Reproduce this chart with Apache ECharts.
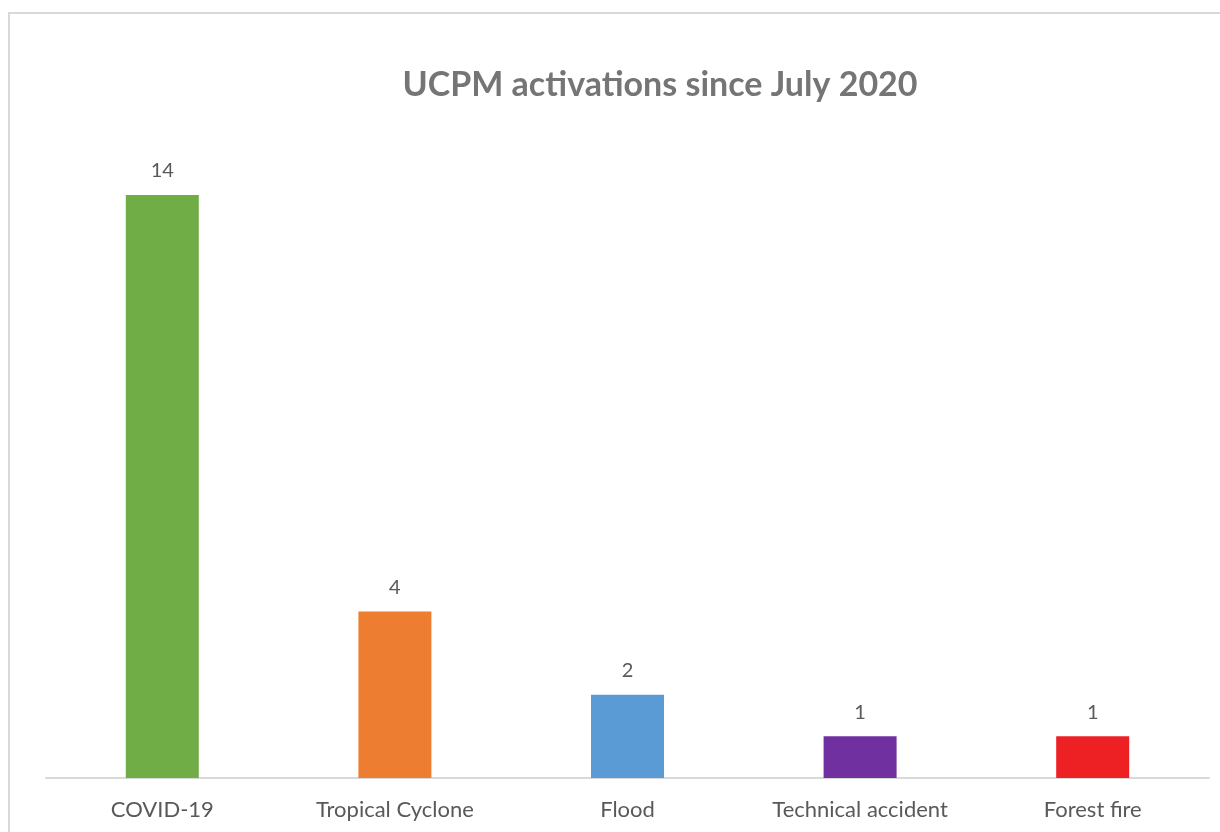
<!DOCTYPE html>
<html>
<head>
<meta charset="utf-8">
<script src="https://cdn.jsdelivr.net/npm/echarts@6/dist/echarts.min.js"></script>
<style>
  html, body { margin: 0; padding: 0; background: #fff; }
  #chart { width: 1220px; height: 832px; }
</style>
</head>
<body>
<div id="chart"></div>
<script>
var categories = ["COVID-19", "Tropical Cyclone", "Flood", "Technical accident", "Forest fire"];
var activations = [14, 4, 2, 1, 1];
var barColors = ["#70ad47", "#ed7d31", "#5b9bd5", "#7030a0", "#ed2024"];

var myChart = echarts.init(document.getElementById("chart"));
myChart.setOption({
  animation: false,
  title: {
    text: "UCPM activations since July 2020",
    left: 655,
    textAlign: "center",
    top: 63,
    textStyle: {
      fontFamily: "Lato",
      fontSize: 34,
      fontWeight: "bold",
      color: "#757575"
    }
  },
  // chart frame
  graphic: [
    {
      type: "rect",
      shape: { x: 9, y: 13, width: 1400, height: 1000 },
      style: { fill: "none", stroke: "#d9d9d9", lineWidth: 2 },
      silent: true
    }
  ],
  grid: {
    left: 46,
    right: 11,
    top: 195,
    bottom: 54,
    containLabel: false
  },
  xAxis: {
    type: "category",
    data: categories,
    axisTick: { show: false },
    axisLine: { lineStyle: { color: "#d9d9d9", width: 2 } },
    axisLabel: {
      margin: 21,
      fontFamily: "Lato",
      fontSize: 22,
      color: "#595959"
    }
  },
  yAxis: {
    type: "value",
    min: 0,
    max: 14,
    show: false,
    splitLine: { show: false }
  },
  series: [
    {
      type: "bar",
      barWidth: 73,
      data: activations.map(function (v, i) {
        return { value: v, itemStyle: { color: barColors[i] } };
      }),
      label: {
        show: true,
        position: "top",
        distance: 14,
        fontFamily: "Lato",
        fontSize: 20,
        color: "#595959"
      }
    }
  ]
});
</script>
</body>
</html>
